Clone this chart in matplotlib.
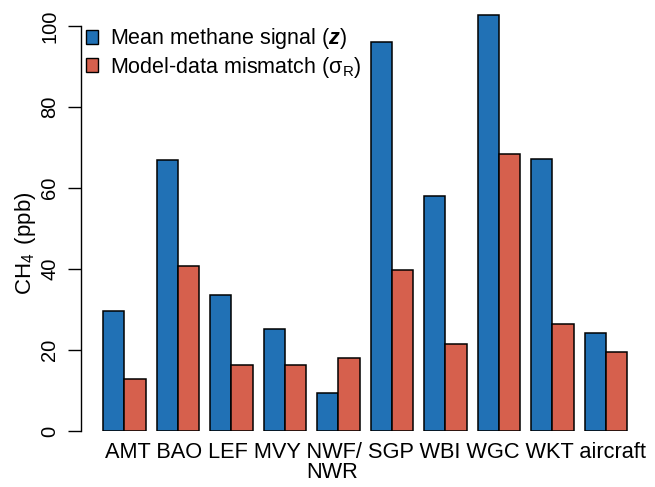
import matplotlib
matplotlib.use("Agg")
import matplotlib.pyplot as plt
from matplotlib.patches import Patch
import numpy as np

plt.rcParams['font.family'] = ['Liberation Sans', 'DejaVu Sans']
plt.rcParams['mathtext.fontset'] = 'custom'
plt.rcParams['mathtext.rm'] = 'Liberation Sans'
plt.rcParams['mathtext.it'] = 'Liberation Sans:italic'
plt.rcParams['mathtext.bf'] = 'Liberation Sans:bold'
plt.rcParams['mathtext.bfit'] = 'Liberation Sans:italic:bold'

sites = ["AMT", "BAO", "LEF", "MVY", "NWF/", "SGP", "WBI", "WGC", "WKT", "aircraft"]
second_line = {"NWF/": "NWR"}
signal = [29.6, 66.8, 33.7, 25.2, 9.3, 96.0, 58.0, 102.6, 67.2, 24.1]
mismatch = [12.9, 40.8, 16.4, 16.2, 18.1, 39.7, 21.4, 68.3, 26.3, 19.6]

blue = "#2171b5"
red = "#d6604d"

fig = plt.figure(figsize=(6.55, 4.87), dpi=100)
W, H = 655, 487
# axes box in pixels: left 81, right 645, bottom 431, top 5
ax = fig.add_axes([81 / W, (H - 431) / H, (645 - 81) / W, (431 - 5) / H])

# bar layout like R barplot(beside=TRUE, space=c(0, 0.5))
x0 = 0.5 + 2.5 * np.arange(len(sites))
ax.bar(x0, signal, width=1, align='edge', color=blue, edgecolor='black', linewidth=1.1)
ax.bar(x0 + 1, mismatch, width=1, align='edge', color=red, edgecolor='black', linewidth=1.1)

ax.set_xlim(0.5 - 22 / 21.4, 0.5 + 564 / 21.4 - 22 / 21.4)
ax.set_ylim(0, 426 / 4.05)

for s in ['top', 'right', 'bottom']:
    ax.spines[s].set_visible(False)
ax.spines['left'].set_bounds(0, 100)
ax.spines['left'].set_linewidth(1.0)

ax.set_yticks([0, 20, 40, 60, 80, 100])
ax.set_yticklabels(["0", "20", "40", "60", "80", "100"], rotation=90, va='center', fontsize=14.5)
ax.tick_params(axis='y', length=9.5, width=1.0, pad=6)
ax.set_xticks([])

# site names written as one line of text (as in the original figure)
fs = 15.7
line1 = " ".join(sites)
tx, ty = 105 / W, (H - 458) / H
fig.text(tx, ty, line1, fontsize=fs, ha='left', va='baseline')
renderer = fig.canvas.get_renderer()
for name, extra in second_line.items():
    prefix = " ".join(sites[:sites.index(name)]) + " "
    t = fig.text(tx, ty, prefix, fontsize=fs, ha='left', va='baseline', alpha=0)
    w = t.get_window_extent(renderer).width
    t.remove()
    fig.text(tx + w / W, (H - 478) / H, extra, fontsize=fs, ha='left', va='baseline')

ax.set_ylabel(r"CH$_{\mathregular{4}}\,$ (ppb)", fontsize=16)
ax.yaxis.set_label_coords(-0.077, 0.44)

handles = [Patch(facecolor=blue, edgecolor='black', linewidth=1.0),
           Patch(facecolor=red, edgecolor='black', linewidth=1.0)]
labels = [r"Mean methane signal ($\mathbfit{z}$)",
          "Model-data mismatch (σ$_{\\mathrm{R}}$)"]
ax.legend(handles, labels, loc='upper left', bbox_to_anchor=(0.008, 0.95),
          frameon=False, fontsize=15.5, handlelength=0.6, handleheight=0.6,
          handletextpad=0.55, labelspacing=0.15, borderaxespad=0.0, borderpad=0.0)

fig.savefig("out.png", dpi=100)
